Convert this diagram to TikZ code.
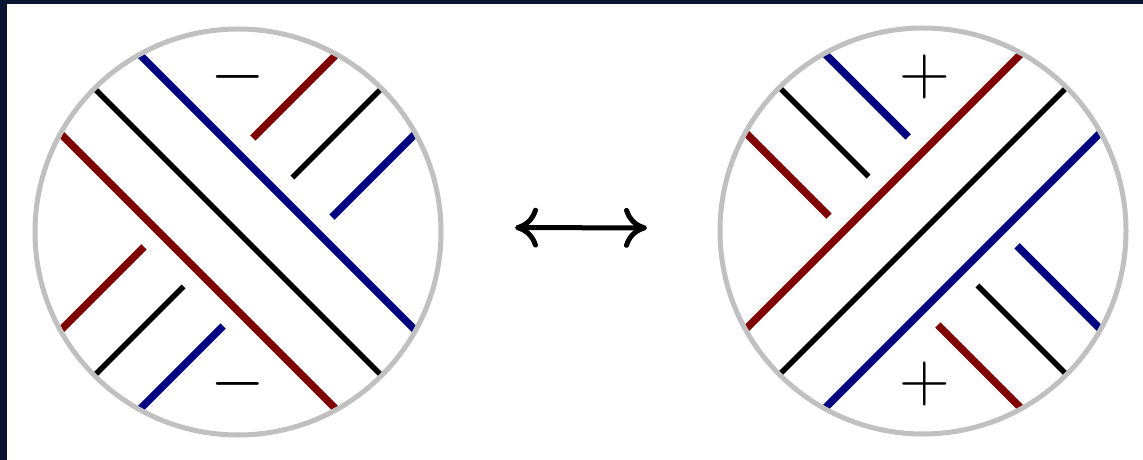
\RequirePackage{fix-cm}
\documentclass[tikz,border=0pt]{standalone}
\usepackage{tikz}
\usetikzlibrary{arrows.meta}

\definecolor{strandred}{RGB}{128,0,0}
\definecolor{strandblue}{RGB}{0,0,128}
\definecolor{diskgray}{RGB}{192,192,192}
\definecolor{frame}{RGB}{10,22,52}

\tikzset{
  redstrand/.style={strandred, line width=1.5mm},
  bluestrand/.style={strandblue, line width=1.5mm},
  blackstrand/.style={black, line width=1.1mm},
  disk/.style={draw=diskgray, line width=1mm, circle, minimum size=81.2mm, inner sep=0pt},
  sign/.style={font=\fontsize{40}{42}\selectfont},
  equiv/.style={line width=1mm,
    {Computer Modern Rightarrow[length=4.6mm, width=8mm]}-{Computer Modern Rightarrow[length=4.6mm, width=8mm]}},
}

\begin{document}
\begin{tikzpicture}[x=0.2mm, y=-0.2mm]
  % screenshot frame
  \fill[frame] (0,0) rectangle (1143,460);
  \fill[white] (7,4) rectangle (1143,460);
  \useasboundingbox (0,0) rectangle (1143,460);

  % left disk: the NW-SE strands lie over
  \begin{scope}[shift={(238,232)}, x={(0.1414mm,-0.1414mm)}, y={(0.1414mm,0.1414mm)}]
    \foreach \off/\sty in {-56/redstrand, 0/blackstrand, 56/bluestrand} {
      \pgfmathsetmacro\half{100*sqrt(2.02*2.02-(\off/100)*(\off/100))}
      \draw[\sty] (\off,-\half) -- (\off,-77);
      \draw[\sty] (\off,77) -- (\off,\half);
      \draw[\sty] (-\half,\off) -- (\half,\off);
    }
  \end{scope}

  % right disk: mirror image, colours swapped
  \begin{scope}[shift={(923,231)}, x={(-0.1414mm,-0.1414mm)}, y={(-0.1414mm,0.1414mm)}]
    \foreach \off/\sty in {-56/bluestrand, 0/blackstrand, 56/redstrand} {
      \pgfmathsetmacro\half{100*sqrt(2.02*2.02-(\off/100)*(\off/100))}
      \draw[\sty] (\off,-\half) -- (\off,-77);
      \draw[\sty] (\off,77) -- (\off,\half);
      \draw[\sty] (-\half,\off) -- (\half,\off);
    }
  \end{scope}

  \node[disk] (lhs) at (238,232) {};
  \node[disk] (rhs) at (923,231) {};

  \node[sign] (lhstop) at (238,77) {$-$};
  \node[sign] (lhsbot) at (238,384) {$-$};
  \node[sign] (rhstop) at (925,77) {$+$};
  \node[sign] (rhsbot) at (925,384) {$+$};

  \draw[equiv, shorten <=14.3mm, shorten >=14.1mm]
    ([yshift=0.9mm]lhs.east) -- ([yshift=0.6mm]rhs.west);
\end{tikzpicture}
\end{document}
